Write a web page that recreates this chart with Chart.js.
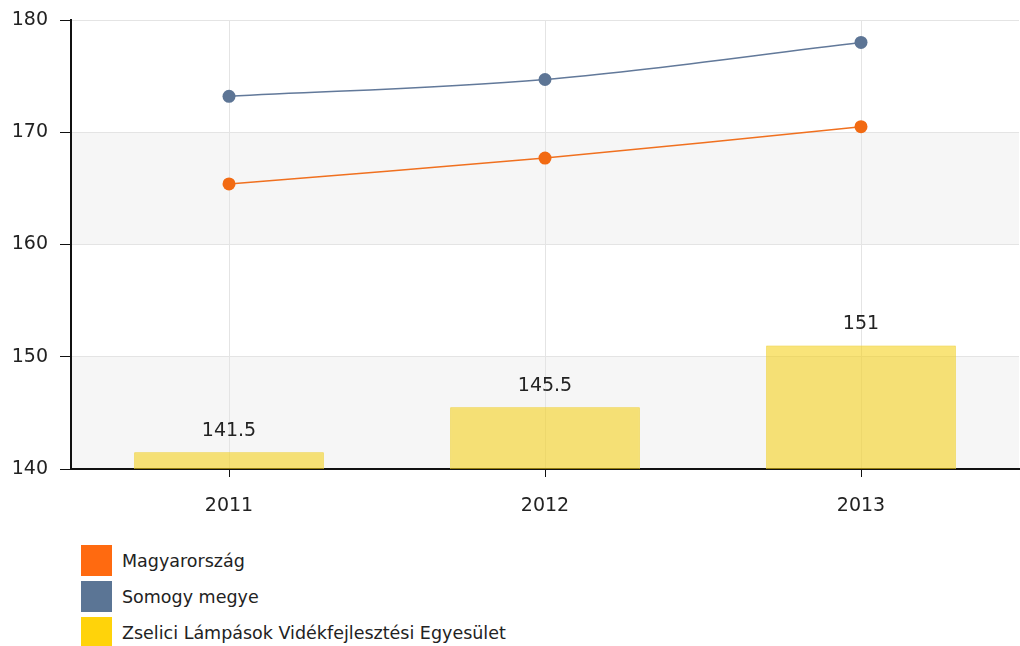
<!DOCTYPE html>
<html>
<head>
<meta charset="utf-8">
<script src="https://cdn.jsdelivr.net/npm/chart.js@4"></script>
<style>
  body { margin: 0; background: #fff; font-family: 'DejaVu Sans', sans-serif; }
  #wrap { position: relative; width: 1020px; height: 646px; }
  #box { position: absolute; left: 0; top: 0; width: 1020px; height: 520px; }
  #legend { position: absolute; left: 81px; top: 545px; }
  .item { display: flex; align-items: center; height: 31px; margin-bottom: 5px; }
  .sw { width: 31px; height: 31px; margin-right: 10px; }
  .item span { font-size: 17.5px; color: #222; }
</style>
</head>
<body>
<div id="wrap">
  <div id="box"><canvas id="chart" width="1020" height="520"></canvas></div>
  <div id="legend"></div>
</div>
<script>
const years = ['2011', '2012', '2013'];
const magyarorszag = [165.4, 167.7, 170.5];
const somogy = [173.2, 174.7, 178.0];
const zselici = [141.5, 145.5, 151];
const seriesNames = ['Magyarország', 'Somogy megye', 'Zselici Lámpások Vidékfejlesztési Egyesület'];
const swatchColors = ['#ff6a10', '#5b7595', '#ffd30a'];

// light grey bands between every other pair of y ticks
const bands = {
  id: 'bands',
  beforeDraw(chart) {
    const { ctx, chartArea, scales } = chart;
    const ticks = scales.y.ticks;
    ctx.save();
    ctx.fillStyle = '#f6f6f6';
    for (let i = 0; i + 1 < ticks.length; i += 2) {
      const y1 = scales.y.getPixelForValue(ticks[i].value);
      const y2 = scales.y.getPixelForValue(ticks[i + 1].value);
      ctx.fillRect(chartArea.left, y2, chartArea.right - chartArea.left, y1 - y2);
    }
    ctx.restore();
  }
};

// value labels above the bars
const barLabels = {
  id: 'barLabels',
  afterDatasetsDraw(chart) {
    const { ctx } = chart;
    const meta = chart.getDatasetMeta(2);
    ctx.save();
    ctx.font = '19px "DejaVu Sans"';
    ctx.fillStyle = '#222';
    ctx.textAlign = 'center';
    ctx.textBaseline = 'middle';
    meta.data.forEach((bar, i) => {
      ctx.fillText(String(zselici[i]), bar.x, bar.y - 21);
    });
    ctx.restore();
  }
};

new Chart(document.getElementById('chart'), {
  type: 'bar',
  data: {
    labels: years,
    datasets: [
      {
        type: 'line', label: seriesNames[0], data: magyarorszag,
        borderColor: '#f0701f', backgroundColor: '#f26a12',
        borderWidth: 1.5, pointRadius: 6.5, pointBorderWidth: 0, tension: 0.35
      },
      {
        type: 'line', label: seriesNames[1], data: somogy,
        borderColor: '#62799a', backgroundColor: '#5d7595',
        borderWidth: 1.5, pointRadius: 6.5, pointBorderWidth: 0, tension: 0.35
      },
      {
        type: 'bar', label: seriesNames[2], data: zselici,
        backgroundColor: 'rgba(245, 208, 20, 0.57)', borderColor: '#f0d030', borderWidth: 1,
        barPercentage: 0.6, categoryPercentage: 1
      }
    ]
  },
  options: {
    responsive: false,
    animation: false,
    layout: { autoPadding: false, padding: { top: 20, right: 1, left: 0, bottom: 0 } },
    plugins: { legend: { display: false }, tooltip: { enabled: false } },
    scales: {
      x: {
        offset: true,
        grid: { offset: false, color: '#e4e4e4', tickColor: '#111', tickLength: 8 },
        border: { color: '#111', width: 2 },
        ticks: { color: '#222', font: { family: 'DejaVu Sans', size: 19 }, padding: 18 },
        afterFit(s) { s.height = 51; s.paddingLeft = 0; s.paddingRight = 0; }
      },
      y: {
        min: 140, max: 180,
        grid: { color: '#e4e4e4', tickColor: '#111', tickLength: 11 },
        border: { color: '#111', width: 2 },
        ticks: { stepSize: 10, color: '#222', font: { family: 'DejaVu Sans', size: 19 }, padding: 12 },
        afterFit(s) { s.width = 71; s.paddingTop = 0; s.paddingBottom = 0; }
      }
    }
  },
  plugins: [bands, barLabels]
});

const legend = document.getElementById('legend');
seriesNames.forEach((name, i) => {
  const row = document.createElement('div');
  row.className = 'item';
  const sw = document.createElement('div');
  sw.className = 'sw';
  sw.style.background = swatchColors[i];
  const txt = document.createElement('span');
  txt.textContent = name;
  row.appendChild(sw);
  row.appendChild(txt);
  legend.appendChild(row);
});
</script>
</body>
</html>
